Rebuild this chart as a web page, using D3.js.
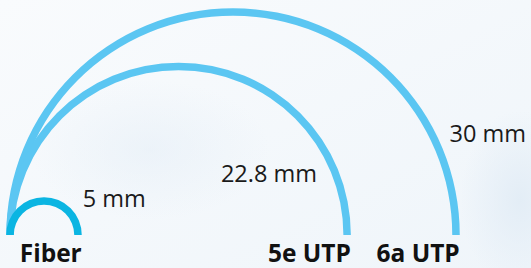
<!DOCTYPE html>
<html>
<head>
<meta charset="utf-8">
<script src="https://cdn.jsdelivr.net/npm/d3@7"></script>
<style>
  html, body { margin: 0; padding: 0; }
  body { width: 531px; height: 268px; overflow: hidden; }
</style>
</head>
<body>
<div id="chart"></div>
<script>
// Minimum bend radius per cable type
const cables = ['Fiber', '5e UTP', '6a UTP'];
const bendRadius = [5, 22.8, 30];
const valueLabels = ['5 mm', '22.8 mm', '30 mm'];

const width = 531;
const height = 268;
const baseY = 235;
const leftX = 10;
const strokeW = 7.5;

const colors = ['#0bb5e2', '#5bc6f2', '#5bc6f2'];

const svg = d3.select('#chart')
  .append('svg')
  .attr('width', width)
  .attr('height', height);

// soft background
const defs = svg.append('defs');
const bg = defs.append('linearGradient')
  .attr('id', 'bg')
  .attr('x1', 0).attr('y1', 0).attr('x2', 1).attr('y2', 1);
bg.append('stop').attr('offset', '0%').attr('stop-color', '#f9fbfd');
bg.append('stop').attr('offset', '100%').attr('stop-color', '#eff5fa');

const blob = defs.append('radialGradient').attr('id', 'blob');
blob.append('stop').attr('offset', '0%').attr('stop-color', '#e3edf6');
blob.append('stop').attr('offset', '100%').attr('stop-color', '#e3edf6').attr('stop-opacity', 0);

svg.append('rect')
  .attr('width', width)
  .attr('height', height)
  .attr('fill', 'url(#bg)');

svg.append('ellipse')
  .attr('cx', 520).attr('cy', 200)
  .attr('rx', 60).attr('ry', 90)
  .attr('fill', 'url(#blob)');

svg.append('ellipse')
  .attr('cx', 150).attr('cy', 150)
  .attr('rx', 120).attr('ry', 70)
  .attr('fill', 'url(#blob)')
  .attr('opacity', 0.5);

// radius scale (mm -> px)
const rScale = d3.scaleLinear()
  .domain([5, 30])
  .range([34, 223]);

const arc = d3.arc()
  .startAngle(-Math.PI / 2)
  .endAngle(Math.PI / 2);

const data = cables.map((name, i) => ({
  name,
  value: bendRadius[i],
  label: valueLabels[i],
  color: colors[i],
  r: rScale(bendRadius[i])
}));

// draw largest first so the fiber arc sits on top
const arcs = svg.append('g').attr('class', 'arcs');
arcs.selectAll('path')
  .data(data.slice().reverse())
  .enter()
  .append('path')
  .attr('transform', d => `translate(${leftX + d.r},${baseY})`)
  .attr('fill', d => d.color)
  .attr('d', d => arc({
    innerRadius: d.r - strokeW / 2,
    outerRadius: d.r + strokeW / 2
  }));

// cable names, right aligned to the end of each arc
svg.append('g')
  .selectAll('text')
  .data(data)
  .enter()
  .append('text')
  .attr('x', d => leftX + 2 * d.r + strokeW / 2)
  .attr('y', 262)
  .attr('text-anchor', 'end')
  .style('font-family', '"Open Sans", sans-serif')
  .style('font-weight', 'bold')
  .style('font-size', '24.5px')
  .style('fill', '#111')
  .text(d => d.name);

// value labels placed around each arc
const labelPos = [
  { angle: 43, offset: 19, anchor: 'start' },
  { angle: 24, offset: -17, anchor: 'end' },
  { angle: 25, offset: 16, anchor: 'start' }
];

svg.append('g')
  .selectAll('text')
  .data(data)
  .enter()
  .append('text')
  .each(function(d, i) {
    const p = labelPos[i];
    const a = p.angle * Math.PI / 180;
    const rr = d.r + p.offset;
    d3.select(this)
      .attr('x', leftX + d.r + rr * Math.cos(a))
      .attr('y', baseY - rr * Math.sin(a))
      .attr('dy', '0.35em')
      .attr('text-anchor', p.anchor);
  })
  .style('font-family', '"Open Sans", sans-serif')
  .style('font-size', '23.5px')
  .style('fill', '#1a1a1a')
  .text(d => d.label);
</script>
</body>
</html>
